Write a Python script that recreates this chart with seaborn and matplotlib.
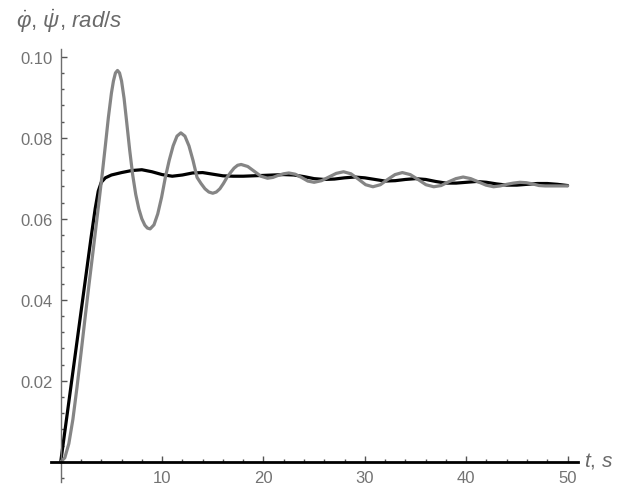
import numpy as np
import pandas as pd
import matplotlib
matplotlib.use("Agg")
import matplotlib.pyplot as plt
from matplotlib.ticker import MultipleLocator, FixedLocator
import seaborn as sns

# Angular rate of the body (black) and of the gimbal (gray), rad/s vs time, s
t_phi = [0.0, 1.0, 2.0, 3.0, 3.4, 3.7, 4.0, 4.4, 5.0, 6.0, 7.0, 8.0, 9.0, 10.0,
         11.0, 12.0, 13.0, 14.0, 15.0, 16.0, 17.0, 18.0, 19.0, 20.0, 21.0, 22.0,
         23.0, 24.0, 25.0, 26.0, 27.0, 28.0, 29.0, 30.0, 31.0, 32.0, 33.0, 34.0,
         35.0, 36.0, 37.0, 38.0, 39.0, 40.0, 41.0, 42.0, 43.0, 44.0, 45.0, 46.0,
         47.0, 48.0, 49.0, 50.0]
phi_dot = [0.0, 0.0185, 0.0370, 0.0555, 0.0625, 0.0668, 0.0690, 0.0701, 0.0708,
           0.0714, 0.0719, 0.0721, 0.0716, 0.0709, 0.0705, 0.0708, 0.0713, 0.0714,
           0.0710, 0.0706, 0.0705, 0.0705, 0.0706, 0.0707, 0.0708, 0.0709, 0.0708,
           0.0704, 0.0699, 0.0697, 0.0698, 0.0701, 0.0703, 0.0701, 0.0697, 0.0693,
           0.0694, 0.0697, 0.0699, 0.0697, 0.0692, 0.0688, 0.0688, 0.0690, 0.0692,
           0.0690, 0.0686, 0.0683, 0.0683, 0.0685, 0.0687, 0.0687, 0.0685, 0.0682]

t_psi = [0.0, 0.4, 0.8, 1.2, 1.6, 2.0, 2.4, 2.8, 3.2, 3.5, 3.8, 4.1, 4.4, 4.7,
         5.0, 5.2, 5.4, 5.6,
         5.8, 6.0, 6.25, 6.5, 6.8, 7.1, 7.4, 7.7, 8.0, 8.3, 8.55, 8.82,
         9.2, 9.57, 9.95, 10.32, 10.70, 11.09, 11.47, 11.85,
         12.25, 12.65, 13.05, 13.45, 13.84, 14.23, 14.61, 15.0,
         15.35, 15.7, 16.05, 16.4, 16.75, 17.1, 17.45, 17.8,
         18.45, 19.1, 19.75, 20.4, 20.93, 21.45, 21.98, 22.5, 23.13, 23.75,
         24.38, 25.0, 25.73, 26.45, 27.18, 27.9, 28.63, 29.35, 30.08, 30.8, 31.53,
         32.25, 32.98, 33.7, 34.48, 35.25, 36.03, 36.8, 37.53, 38.25, 38.98, 39.7,
         40.45, 41.2, 41.95, 42.7, 43.35, 44.0, 44.65, 45.3, 45.93, 46.55, 47.18,
         47.8, 48.9, 50.0]
psi_dot = [0.0, 0.0010, 0.0045, 0.0105, 0.0183, 0.0268, 0.0355, 0.0440, 0.0522,
           0.0585, 0.0648, 0.0712, 0.0780, 0.0850, 0.0910, 0.0940, 0.0960, 0.0966,
           0.0960, 0.0940, 0.0897, 0.0840, 0.0770, 0.0708, 0.0660, 0.0625, 0.0600,
           0.0584, 0.0577, 0.0575,
           0.0585, 0.0612, 0.0653, 0.0702, 0.0744, 0.0780, 0.0804, 0.0812,
           0.0804, 0.0780, 0.0744, 0.0702, 0.0687, 0.0674, 0.0666, 0.0663,
           0.0666, 0.0674, 0.0687, 0.0702, 0.0714, 0.0725, 0.0732, 0.0734,
           0.0729, 0.0717, 0.0705, 0.0700, 0.0702, 0.0707,
           0.0711, 0.0713, 0.0710, 0.0702, 0.0693, 0.0690, 0.0694, 0.0703, 0.0712,
           0.0716, 0.0711, 0.0698, 0.0684, 0.0679, 0.0684, 0.0697, 0.0709, 0.0714,
           0.0709, 0.0697, 0.0684, 0.0679, 0.0682, 0.0691, 0.0699, 0.0703, 0.0699,
           0.0691, 0.0683, 0.0679, 0.0681, 0.0685, 0.0688, 0.0690, 0.0689, 0.0686,
           0.0682, 0.0681, 0.0681, 0.0681]

x_ticks = [10, 20, 30, 40, 50]
y_ticks = [0.02, 0.04, 0.06, 0.08, 0.10]
y_tick_labels = ["0.02", "0.04", "0.06", "0.08", "0.10"]

df = pd.concat([
    pd.DataFrame({"t": t_phi, "rate": phi_dot, "series": "phi"}),
    pd.DataFrame({"t": t_psi, "rate": psi_dot, "series": "psi"}),
], ignore_index=True)

sns.set_theme(style="white")
plt.rcParams["font.family"] = ["Liberation Sans", "DejaVu Sans"]
plt.rcParams["mathtext.fontset"] = "custom"
plt.rcParams["mathtext.it"] = "Liberation Sans:italic"
plt.rcParams["mathtext.rm"] = "Liberation Sans"

fig = plt.figure(figsize=(6.17, 4.89), dpi=100)
W, H = 617, 489
ax = fig.add_axes([51 / W, 1 - 482.7 / H, (577.7 - 51) / W, (482.7 - 50) / H])

sns.lineplot(data=df, x="t", y="rate", hue="series",
             palette={"phi": "#000000", "psi": "#858585"},
             hue_order=["phi", "psi"], linewidth=2.3, legend=False,
             sort=False, estimator=None, ax=ax)
for ln in ax.get_lines():
    ln.set_solid_joinstyle("round")
    ln.set_solid_capstyle("round")

ax.set_xlim(-0.96, 51.0)
ax.set_ylim(-0.0049, 0.1019)
ax.set_xlabel("")
ax.set_ylabel("")

for side in ("top", "right"):
    ax.spines[side].set_visible(False)
ax.spines["left"].set_position(("data", 0))
ax.spines["bottom"].set_position(("data", 0))
ax.spines["left"].set_color("#6e6e6e")
ax.spines["left"].set_linewidth(1.0)
ax.spines["bottom"].set_color("#000000")
ax.spines["bottom"].set_linewidth(2.0)

ax.xaxis.set_major_locator(FixedLocator(x_ticks))
ax.yaxis.set_major_locator(FixedLocator(y_ticks))
ax.set_yticklabels(y_tick_labels)
ax.xaxis.set_minor_locator(MultipleLocator(2))
ax.yaxis.set_minor_locator(MultipleLocator(0.004))

ax.tick_params(axis="both", which="major", direction="in", length=4.5, width=1.0,
               color="#555555", labelcolor="#737373", labelsize=12)
ax.tick_params(axis="both", which="minor", direction="in", length=2.5, width=1.0,
               color="#555555")
ax.tick_params(axis="y", which="both", left=True, pad=5.5)
ax.tick_params(axis="x", which="both", bottom=True, pad=6)

fig.text(16 / W, 1 - 21 / H, r"$\dot{\varphi}$, $\dot{\psi}$, $rad/s$",
         fontsize=16, color="#6a6a6a", va="center", ha="left")
fig.text(584 / W, 1 - 461 / H, r"$t$, $s$", fontsize=15, color="#6a6a6a",
         va="center", ha="left")

fig.savefig("out.png", dpi=100)
